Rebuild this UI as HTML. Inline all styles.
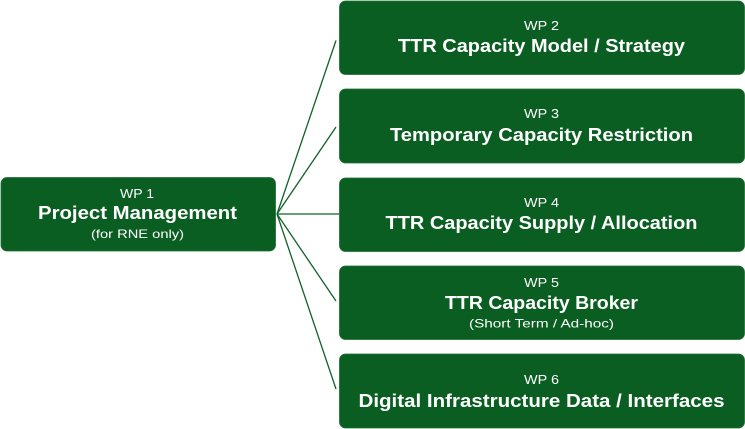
<!DOCTYPE html>
<html>
<head>
<meta charset="utf-8">
<style>
  html, body { margin: 0; padding: 0; background: #ffffff; }
  body { width: 745px; height: 429px; overflow: hidden; }
  svg { display: block; }
  text { font-family: "Liberation Sans", sans-serif; fill: #ffffff; }
  .wp { font-size: 13px; }
  .t { font-size: 18px; font-weight: bold; }
  .s { font-size: 12px; }
</style>
</head>
<body>
<svg width="745" height="429" viewBox="0 0 745 429" xmlns="http://www.w3.org/2000/svg">
  <!-- connectors -->
  <g stroke="#11612a" stroke-width="1.3" fill="none">
    <line x1="277" y1="214" x2="336" y2="40.5"/>
    <line x1="277" y1="214" x2="336" y2="127"/>
    <line x1="277" y1="214" x2="339" y2="214"/>
    <line x1="277" y1="214" x2="336" y2="301"/>
    <line x1="277" y1="214" x2="336" y2="389"/>
  </g>

  <!-- boxes -->
  <g fill="#0b5e22" stroke="#1f6e35" stroke-width="0.8">
    <rect x="1" y="177.5" width="274.5" height="73.5" rx="6" ry="6"/>
    <rect x="339.5" y="1" width="405" height="73.5" rx="6" ry="6"/>
    <rect x="339.5" y="89" width="405" height="74" rx="6" ry="6"/>
    <rect x="339.5" y="178" width="405" height="73.5" rx="6" ry="6"/>
    <rect x="339.5" y="266" width="405" height="73.5" rx="6" ry="6"/>
    <rect x="339.5" y="354" width="405" height="74" rx="6" ry="6"/>
  </g>

  <!-- WP 1 -->
  <text class="wp" x="137" y="198" text-anchor="middle" textLength="34" lengthAdjust="spacingAndGlyphs">WP 1</text>
  <text class="t" x="137.5" y="219" text-anchor="middle" textLength="199" lengthAdjust="spacingAndGlyphs">Project Management</text>
  <text class="s" x="137.5" y="238" text-anchor="middle" textLength="93" lengthAdjust="spacingAndGlyphs">(for RNE only)</text>

  <!-- WP 2 -->
  <text class="wp" x="541.5" y="30" text-anchor="middle" textLength="35" lengthAdjust="spacingAndGlyphs">WP 2</text>
  <text class="t" x="541.5" y="52" text-anchor="middle" textLength="287" lengthAdjust="spacingAndGlyphs">TTR Capacity Model / Strategy</text>

  <!-- WP 3 -->
  <text class="wp" x="541.5" y="118" text-anchor="middle" textLength="35" lengthAdjust="spacingAndGlyphs">WP 3</text>
  <text class="t" x="541.5" y="141" text-anchor="middle" textLength="303" lengthAdjust="spacingAndGlyphs">Temporary Capacity Restriction</text>

  <!-- WP 4 -->
  <text class="wp" x="541.5" y="207" text-anchor="middle" textLength="35" lengthAdjust="spacingAndGlyphs">WP 4</text>
  <text class="t" x="541.5" y="229" text-anchor="middle" textLength="312" lengthAdjust="spacingAndGlyphs">TTR Capacity Supply / Allocation</text>

  <!-- WP 5 -->
  <text class="wp" x="541.5" y="287" text-anchor="middle" textLength="35" lengthAdjust="spacingAndGlyphs">WP 5</text>
  <text class="t" x="541.5" y="309" text-anchor="middle" textLength="193" lengthAdjust="spacingAndGlyphs">TTR Capacity Broker</text>
  <text class="s" x="541.5" y="327.5" text-anchor="middle" textLength="145" lengthAdjust="spacingAndGlyphs">(Short Term / Ad-hoc)</text>

  <!-- WP 6 -->
  <text class="wp" x="541.5" y="384" text-anchor="middle" textLength="35" lengthAdjust="spacingAndGlyphs">WP 6</text>
  <text class="t" x="541.5" y="407" text-anchor="middle" textLength="366" lengthAdjust="spacingAndGlyphs">Digital Infrastructure Data / Interfaces</text>
</svg>
</body>
</html>
